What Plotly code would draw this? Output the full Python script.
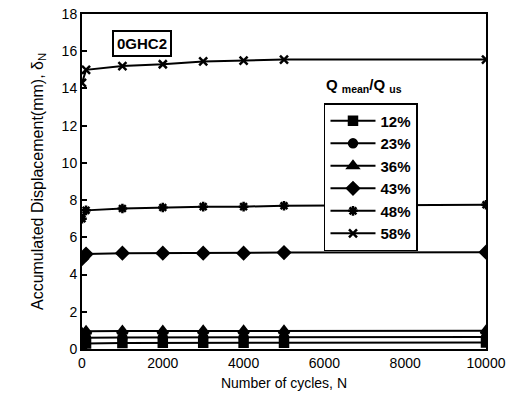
import plotly.graph_objects as go

cycles = [0, 100, 1000, 2000, 3000, 4000, 5000, 10000]
s12 = [0.25, 0.30, 0.32, 0.33, 0.33, 0.34, 0.34, 0.35]
s23 = [0.50, 0.60, 0.62, 0.62, 0.63, 0.63, 0.64, 0.64]
s36 = [0.85, 0.95, 0.97, 0.97, 0.98, 0.98, 0.98, 0.98]
s43 = [4.85, 5.10, 5.15, 5.15, 5.15, 5.15, 5.18, 5.20]
s48 = [7.00, 7.45, 7.55, 7.60, 7.65, 7.65, 7.70, 7.75]
s58 = [14.30, 15.00, 15.20, 15.30, 15.45, 15.50, 15.55, 15.55]
names = ["12%", "23%", "36%", "43%", "48%", "58%"]
series = [s12, s23, s36, s43, s48, s58]
symbols = ["square", "circle", "triangle-up", "diamond", "asterisk-open", "x-thin-open"]
sizes = [8, 8, 9, 9, 8, 8]
xticks = [0, 2000, 4000, 6000, 8000, 10000]
xticklabels = ["0", "2000", "4000", "6000", "8000", "10000"]

fig = go.Figure()
for n, s, sym, sz in zip(names, series, symbols, sizes):
    fig.add_trace(go.Scatter(
        x=cycles, y=s, name="<b>" + n + "</b>", mode="lines+markers",
        line=dict(color="black", width=2),
        marker=dict(symbol=sym, size=sz, color="black",
                    line=dict(color="black", width=2.5)),
    ))

font = "Liberation Sans, Arial, sans-serif"
fig.update_layout(
    width=518, height=407,
    margin=dict(l=82, r=32, t=14, b=58, autoexpand=False),
    paper_bgcolor="white", plot_bgcolor="white",
    font=dict(family=font, size=13, color="black"),
    showlegend=True,
    legend=dict(x=0.599, y=0.734, xanchor="left", yanchor="top",
                bordercolor="black", borderwidth=1.5, bgcolor="white",
                font=dict(size=15, color="black"), tracegroupgap=0,
                itemwidth=45),
    xaxis=dict(range=[0, 10000], tickvals=xticks, ticktext=xticklabels,
               automargin=False,
               showgrid=False, zeroline=False, showline=True, linecolor="black",
               linewidth=2, mirror=True, ticks="", tickfont=dict(size=14),
               title=dict(text="Number of cycles, N", font=dict(size=14), standoff=8)),
    yaxis=dict(range=[0, 18], dtick=2, showgrid=False, zeroline=False,
               automargin=False,
               showline=True, linecolor="black", linewidth=2, mirror=True,
               ticks="inside", ticklen=5, tickwidth=2, tickcolor="black",
               tickfont=dict(size=14),
               title=dict(text="Accumulated Displacement(mm), δ<sub>N</sub>",
                          font=dict(size=16), standoff=14)),
    annotations=[
        dict(x=0.149, y=0.913, xref="paper", yref="paper", text="<b>0GHC2</b>",
             xanchor="center", yanchor="middle",
             showarrow=False, font=dict(size=15), bordercolor="black",
             borderwidth=2, borderpad=3, bgcolor="white"),
        dict(x=0.599, y=0.752, xref="paper", yref="paper", xanchor="left",
             yanchor="bottom",
             text="<b>Q</b> <sub><b>mean</b></sub><b>/Q</b> <sub><b>us</b></sub>",
             showarrow=False, font=dict(size=15)),
    ],
)
fig.write_html("out.html", config={"displayModeBar": False},
               post_script="document.body.style.margin='0';")
